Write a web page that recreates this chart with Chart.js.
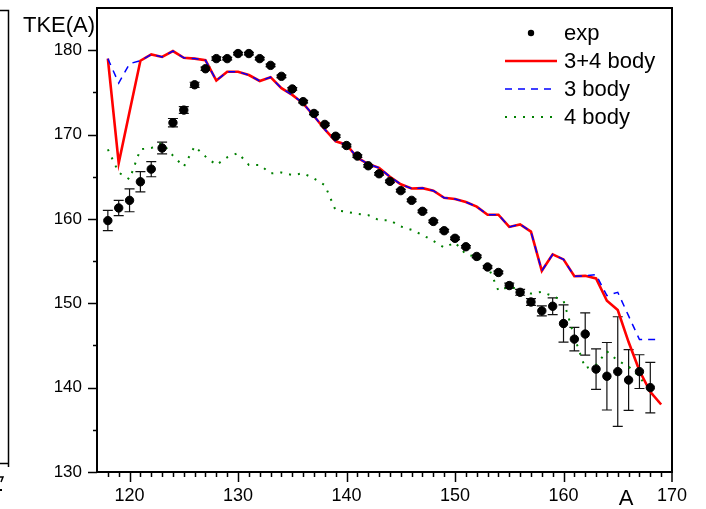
<!DOCTYPE html>
<html>
<head>
<meta charset="utf-8">
<script src="https://cdn.jsdelivr.net/npm/chart.js@4.4.0/dist/chart.umd.min.js"></script>
<style>
    body { margin: 0; background: #fff; }
    .wrap { width: 706px; height: 509px; }
</style>
</head>
<body>
<div class="wrap"><canvas id="tke" width="706" height="509"></canvas></div>
<script>
// mass numbers
let massExp = [], massCalc = [];
for (let a = 118; a <= 168; a++) massExp.push(a);
for (let a = 118; a <= 169; a++) massCalc.push(a);

// measured TKE and its errors
let tkeExp = [159.8, 161.3, 162.2, 164.4, 165.9, 168.4, 171.4, 172.9, 175.9, 177.8,
              179.0, 179.0, 179.6, 179.6, 179.0, 178.2, 176.9, 175.4, 173.9, 172.5,
              171.2, 169.8, 168.7, 167.45, 166.3, 165.35, 164.45, 163.35, 162.2, 160.9,
              159.7, 158.6, 157.7, 156.7, 155.55, 154.3, 153.65, 152.1, 151.3, 150.15,
              149.1, 149.65, 147.6, 145.75, 146.35, 142.2, 141.35, 141.9, 140.9, 141.9,
              140.0];
let tkeErr = [1.2, 0.9, 1.35, 1.2, 0.9, 0.7, 0.5, 0.4, 0.3, 0.2,
              0.2, 0.15, 0.15, 0.15, 0.15, 0.15, 0.15, 0.15, 0.15, 0.15,
              0.15, 0.15, 0.15, 0.15, 0.15, 0.15, 0.15, 0.15, 0.15, 0.15,
              0.15, 0.15, 0.15, 0.15, 0.15, 0.15, 0.15, 0.3, 0.35, 0.4,
              0.6, 1.0, 2.2, 1.4, 2.5, 2.4, 4.0, 6.5, 3.6, 2.0,
              3.0];

// model curves
let tke34 = [179.0, 166.6, 172.7, 178.75, 179.5, 179.2, 179.9, 179.1, 179.0, 178.8,
             176.4, 177.45, 177.45, 177.05, 176.35, 176.8, 175.5, 174.7, 173.7, 172.2,
             170.6, 169.2, 168.8, 167.25, 166.5, 166.05, 165.0, 164.1, 163.6, 163.65,
             163.35, 162.5, 162.35, 162.0, 161.45, 160.5, 160.5, 159.05, 159.35, 158.5,
             153.85, 155.8, 155.2, 153.2, 153.25, 152.95, 150.3, 149.2, 145.4, 142.0,
             139.5, 138.0];
let tke3 = [179.0, 176.1, 178.4, 178.75, 179.5, 179.2, 179.9, 179.1, 179.0, 178.8,
            176.4, 177.45, 177.45, 177.05, 176.35, 176.8, 175.5, 174.7, 173.7, 172.2,
            170.6, 169.2, 168.8, 167.25, 166.5, 166.05, 165.0, 164.1, 163.6, 163.65,
            163.35, 162.5, 162.35, 162.0, 161.45, 160.5, 160.5, 159.05, 159.35, 158.5,
            153.85, 155.8, 155.2, 153.2, 153.25, 153.4, 150.9, 151.3, 148.5, 145.7,
            145.7, 145.7];
let tke4 = [168.25, 165.5, 164.7, 168.25, 168.4, 169.0, 167.5, 166.2, 168.6, 167.4,
            166.4, 167.3, 167.8, 166.4, 166.4, 165.4, 165.5, 165.2, 165.4, 164.8,
            164.0, 161.0, 160.85, 160.6, 160.45, 159.85, 159.85, 159.1, 158.7, 158.1,
            157.4, 156.6, 157.2, 155.8, 155.5, 154.5, 151.5, 151.95, 151.6, 151.15,
            151.35, 150.85, 150.3, 146.0, 142.3, 142.7, 144.3, 143.2, 142.5, 141.3,
            139.5, 138.0];

let xMin = 117, xMax = 170, yMin = 130, yMax = 185;
let font = 'Liberation Sans, Arial, sans-serif';

function toPoints(xs, ys) {
    return xs.map((x, i) => ({ x: x, y: ys[i] }));
}

// fixed axis boxes, no extra room for half labels
function fixBox(scale, w, h) {
    if (w) scale.width = w;
    if (h) scale.height = h;
    scale.paddingTop = 0;
    scale.paddingBottom = 0;
    scale.paddingLeft = 0;
    scale.paddingRight = 0;
}

// frame, tick marks, error bars, texts and legend
const decorations = {
    id: 'decorations',
    beforeDatasetsDraw(chart) {
        let ctx = chart.ctx, xs = chart.scales.x, ys = chart.scales.y;
        ctx.save();
        ctx.strokeStyle = '#111';
        ctx.lineWidth = 1.2;
        massExp.forEach((a, i) => {
            let px = xs.getPixelForValue(a),
                top = ys.getPixelForValue(tkeExp[i] + tkeErr[i]),
                bot = ys.getPixelForValue(tkeExp[i] - tkeErr[i]);
            ctx.beginPath();
            ctx.moveTo(px, top); ctx.lineTo(px, bot);
            ctx.moveTo(px - 5, top); ctx.lineTo(px + 5, top);
            ctx.moveTo(px - 5, bot); ctx.lineTo(px + 5, bot);
            ctx.stroke();
        });
        ctx.restore();
    },
    afterDraw(chart) {
        let ctx = chart.ctx, xs = chart.scales.x, ys = chart.scales.y,
            area = chart.chartArea;
        ctx.save();
        ctx.strokeStyle = '#000';
        ctx.fillStyle = '#000';

        // box
        ctx.lineWidth = 2;
        ctx.strokeRect(area.left, area.top, area.right - area.left, area.bottom - area.top);

        // ticks on the bottom axis
        ctx.lineWidth = 1.5;
        ctx.beginPath();
        for (let v = xMin + 1; v < xMax; v++) {
            let px = Math.round(xs.getPixelForValue(v)) + 0.5;
            ctx.moveTo(px, area.bottom);
            ctx.lineTo(px, area.bottom + (v % 10 == 0 ? 10 : 5));
        }
        let pr = xs.getPixelForValue(xMax);
        ctx.moveTo(pr, area.bottom); ctx.lineTo(pr, area.bottom + 10);
        // ticks on the left axis
        for (let v = yMin; v < yMax; v += 5) {
            let py = Math.round(ys.getPixelForValue(v)) + 0.5;
            ctx.moveTo(area.left, py);
            ctx.lineTo(area.left - (v % 10 == 0 ? 9 : 4), py);
        }
        ctx.stroke();

        // axis texts
        ctx.font = '22px ' + font;
        ctx.textBaseline = 'alphabetic';
        ctx.textAlign = 'left';
        ctx.fillText('TKE(A)', 23, 32);
        ctx.textAlign = 'center';
        ctx.fillText('A', 626, 505);

        // edge of the neighbouring panel
        ctx.lineWidth = 1.5;
        ctx.beginPath();
        ctx.moveTo(0, 10.5); ctx.lineTo(8.5, 10.5);
        ctx.lineTo(8.5, 463.5); ctx.lineTo(0, 463.5);
        ctx.moveTo(8.5, 463.5); ctx.lineTo(8.5, 467);
        ctx.moveTo(0, 477); ctx.lineTo(3, 477); ctx.lineTo(1, 482);
        ctx.stroke();
        ctx.fillRect(0, 489, 2, 2);

        // legend
        let rows = [
            { text: 'exp', type: 'dot' },
            { text: '3+4 body', color: '#ff0000', width: 2.5, dash: [] },
            { text: '3 body', color: '#0000ff', width: 1.5, dash: [7, 6] },
            { text: '4 body', color: '#008000', width: 2, dash: [2, 7] }
        ];
        ctx.font = '22px ' + font;
        ctx.textAlign = 'left';
        ctx.textBaseline = 'middle';
        rows.forEach((r, i) => {
            let y = 33 + i * 28;
            if (r.type == 'dot') {
                ctx.beginPath();
                ctx.arc(531, y, 3.2, 0, Math.PI * 2);
                ctx.fill();
            } else {
                ctx.strokeStyle = r.color;
                ctx.lineWidth = r.width;
                ctx.setLineDash(r.dash);
                ctx.beginPath();
                ctx.moveTo(505, y); ctx.lineTo(557, y);
                ctx.stroke();
                ctx.setLineDash([]);
            }
            ctx.fillStyle = '#000';
            ctx.fillText(r.text, 564, y + 1);
        });
        ctx.restore();
    }
};

new Chart(
    document.getElementById('tke'),
    {
        type: 'scatter',
        data: {
            datasets: [
                {
                    label: 'exp',
                    data: toPoints(massExp, tkeExp),
                    backgroundColor: '#000',
                    borderColor: '#000',
                    pointRadius: 4.2,
                    showLine: false
                },
                {
                    label: '3 body',
                    data: toPoints(massCalc, tke3),
                    borderColor: '#0000ff',
                    borderWidth: 1.5,
                    borderDash: [7, 6],
                    pointRadius: 0,
                    showLine: true,
                    fill: false
                },
                {
                    label: '3+4 body',
                    data: toPoints(massCalc, tke34),
                    borderColor: '#ff0000',
                    borderWidth: 2.6,
                    pointRadius: 0,
                    showLine: true,
                    fill: false
                },
                {
                    label: '4 body',
                    data: toPoints(massCalc, tke4),
                    borderColor: '#008000',
                    borderWidth: 2,
                    borderDash: [2, 7],
                    pointRadius: 0,
                    showLine: true,
                    fill: false
                }
            ]
        },
        options: {
            responsive: false,
            animation: false,
            devicePixelRatio: 1,
            layout: { padding: { top: 8, right: 34, left: 0, bottom: 0 } },
            plugins: {
                legend: { display: false },
                tooltip: { enabled: false }
            },
            scales: {
                x: {
                    type: 'linear',
                    min: xMin,
                    max: xMax,
                    grid: { display: false, drawTicks: false },
                    border: { display: false },
                    ticks: {
                        stepSize: 10,
                        padding: 13,
                        autoSkip: false,
                        includeBounds: false,
                        maxRotation: 0,
                        color: '#000',
                        font: { family: font, size: 18 },
                        callback: (v) => (v % 10 == 0 ? v : '')
                    },
                    afterFit: (scale) => fixBox(scale, 0, 37)
                },
                y: {
                    min: yMin,
                    max: yMax,
                    grid: { display: false, drawTicks: false },
                    border: { display: false },
                    ticks: {
                        stepSize: 10,
                        padding: 15,
                        autoSkip: false,
                        includeBounds: false,
                        color: '#000',
                        font: { family: font, size: 17 },
                        callback: (v) => (v % 10 == 0 ? v : '')
                    },
                    afterFit: (scale) => fixBox(scale, 97, 0)
                }
            }
        },
        plugins: [decorations]
    }
);
</script>
</body>
</html>
